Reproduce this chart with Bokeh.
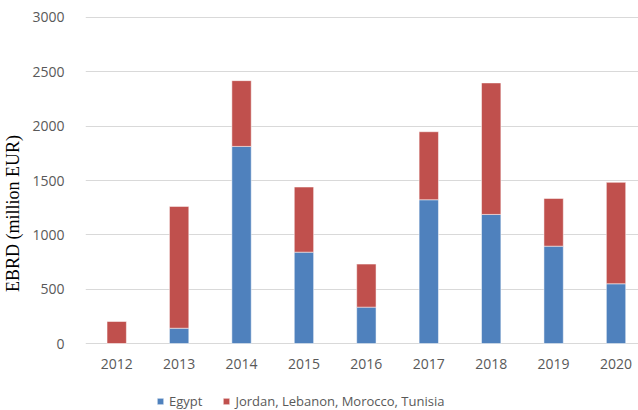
from bokeh.plotting import figure
from bokeh.models import Range1d, FixedTicker, Legend, LegendItem, ColumnDataSource
from bokeh.core.properties import value
from bokeh.embed import file_html
from bokeh.resources import INLINE

years = ["2012", "2013", "2014", "2015", "2016", "2017", "2018", "2019", "2020"]
egypt = [0, 141, 1814, 841, 335, 1323, 1188, 896, 550]
others = [203, 1121, 605, 599, 396, 626, 1210, 439, 933]
series_names = ["Egypt", "Jordan, Lebanon, Morocco, Tunisia"]
colors = ["#4F81BD", "#C0504D"]
y_ticks = [0, 500, 1000, 1500, 2000, 2500, 3000]

xs = list(range(len(years)))
src = ColumnDataSource(dict(x=xs, egypt=egypt, others=others,
                            top2=[a + b for a, b in zip(egypt, others)]))

# frame spans the full height; 0 sits at pixel row 343, 3000 at row ~17
UNITS_PER_PX = 3000 / 326.3
y_bottom = -(410 - 343) * UNITS_PER_PX
y_top = 3000 + 1 * UNITS_PER_PX

p = figure(width=638, height=410, output_backend="svg", toolbar_location=None,
           x_range=Range1d(-0.5, 8.36), y_range=Range1d(y_bottom, y_top),
           min_border_left=79, min_border_right=0, min_border_top=16,
           min_border_bottom=0)
p.outline_line_color = None
p.background_fill_color = "white"
p.border_fill_color = "white"

r1 = p.vbar(x="x", bottom=0, top="egypt", width=0.31, source=src,
            fill_color=colors[0], line_color="white", line_width=0.5)
r2 = p.vbar(x="x", bottom="egypt", top="top2", width=0.31, source=src,
            fill_color=colors[1], line_color="white", line_width=0.5)

font = "Open Sans"
grey = "#595959"

# category labels under the bars
p.xaxis.visible = False
p.text(x=xs, y=[-20 * UNITS_PER_PX] * len(xs), text=years,
       text_font=value(font), text_font_size="14px", text_color=grey,
       text_align="center", text_baseline="middle")

p.yaxis.ticker = FixedTicker(ticks=y_ticks)
p.yaxis.major_tick_line_color = None
p.yaxis.minor_tick_line_color = None
p.yaxis.axis_line_color = None
p.yaxis.major_label_text_font = font
p.yaxis.major_label_text_font_size = "14px"
p.yaxis.major_label_text_color = grey
p.yaxis.major_label_standoff = 15
p.yaxis.axis_label = "EBRD (million EUR)"
p.yaxis.axis_label_text_font = "Liberation Serif"
p.yaxis.axis_label_text_font_size = "18px"
p.yaxis.axis_label_text_font_style = "normal"
p.yaxis.axis_label_text_color = "black"
p.yaxis.axis_label_standoff = 6

p.xgrid.grid_line_color = None
p.ygrid.grid_line_color = "#D9D9D9"
p.ygrid.grid_line_width = 1

legend = Legend(items=[LegendItem(label=series_names[0], renderers=[r1]),
                       LegendItem(label=series_names[1], renderers=[r2])],
                orientation="horizontal", location=(71, 0))
legend.label_text_font = font
legend.label_text_font_size = "13px"
legend.label_text_color = grey
legend.glyph_width = 8
legend.glyph_height = 8
legend.label_standoff = 5
legend.spacing = 20
legend.padding = 1
legend.margin = 0
legend.label_height = 14
legend.border_line_color = None
legend.background_fill_alpha = 0
p.add_layout(legend, "center")

open("out.html", "w").write(file_html(p, INLINE))
